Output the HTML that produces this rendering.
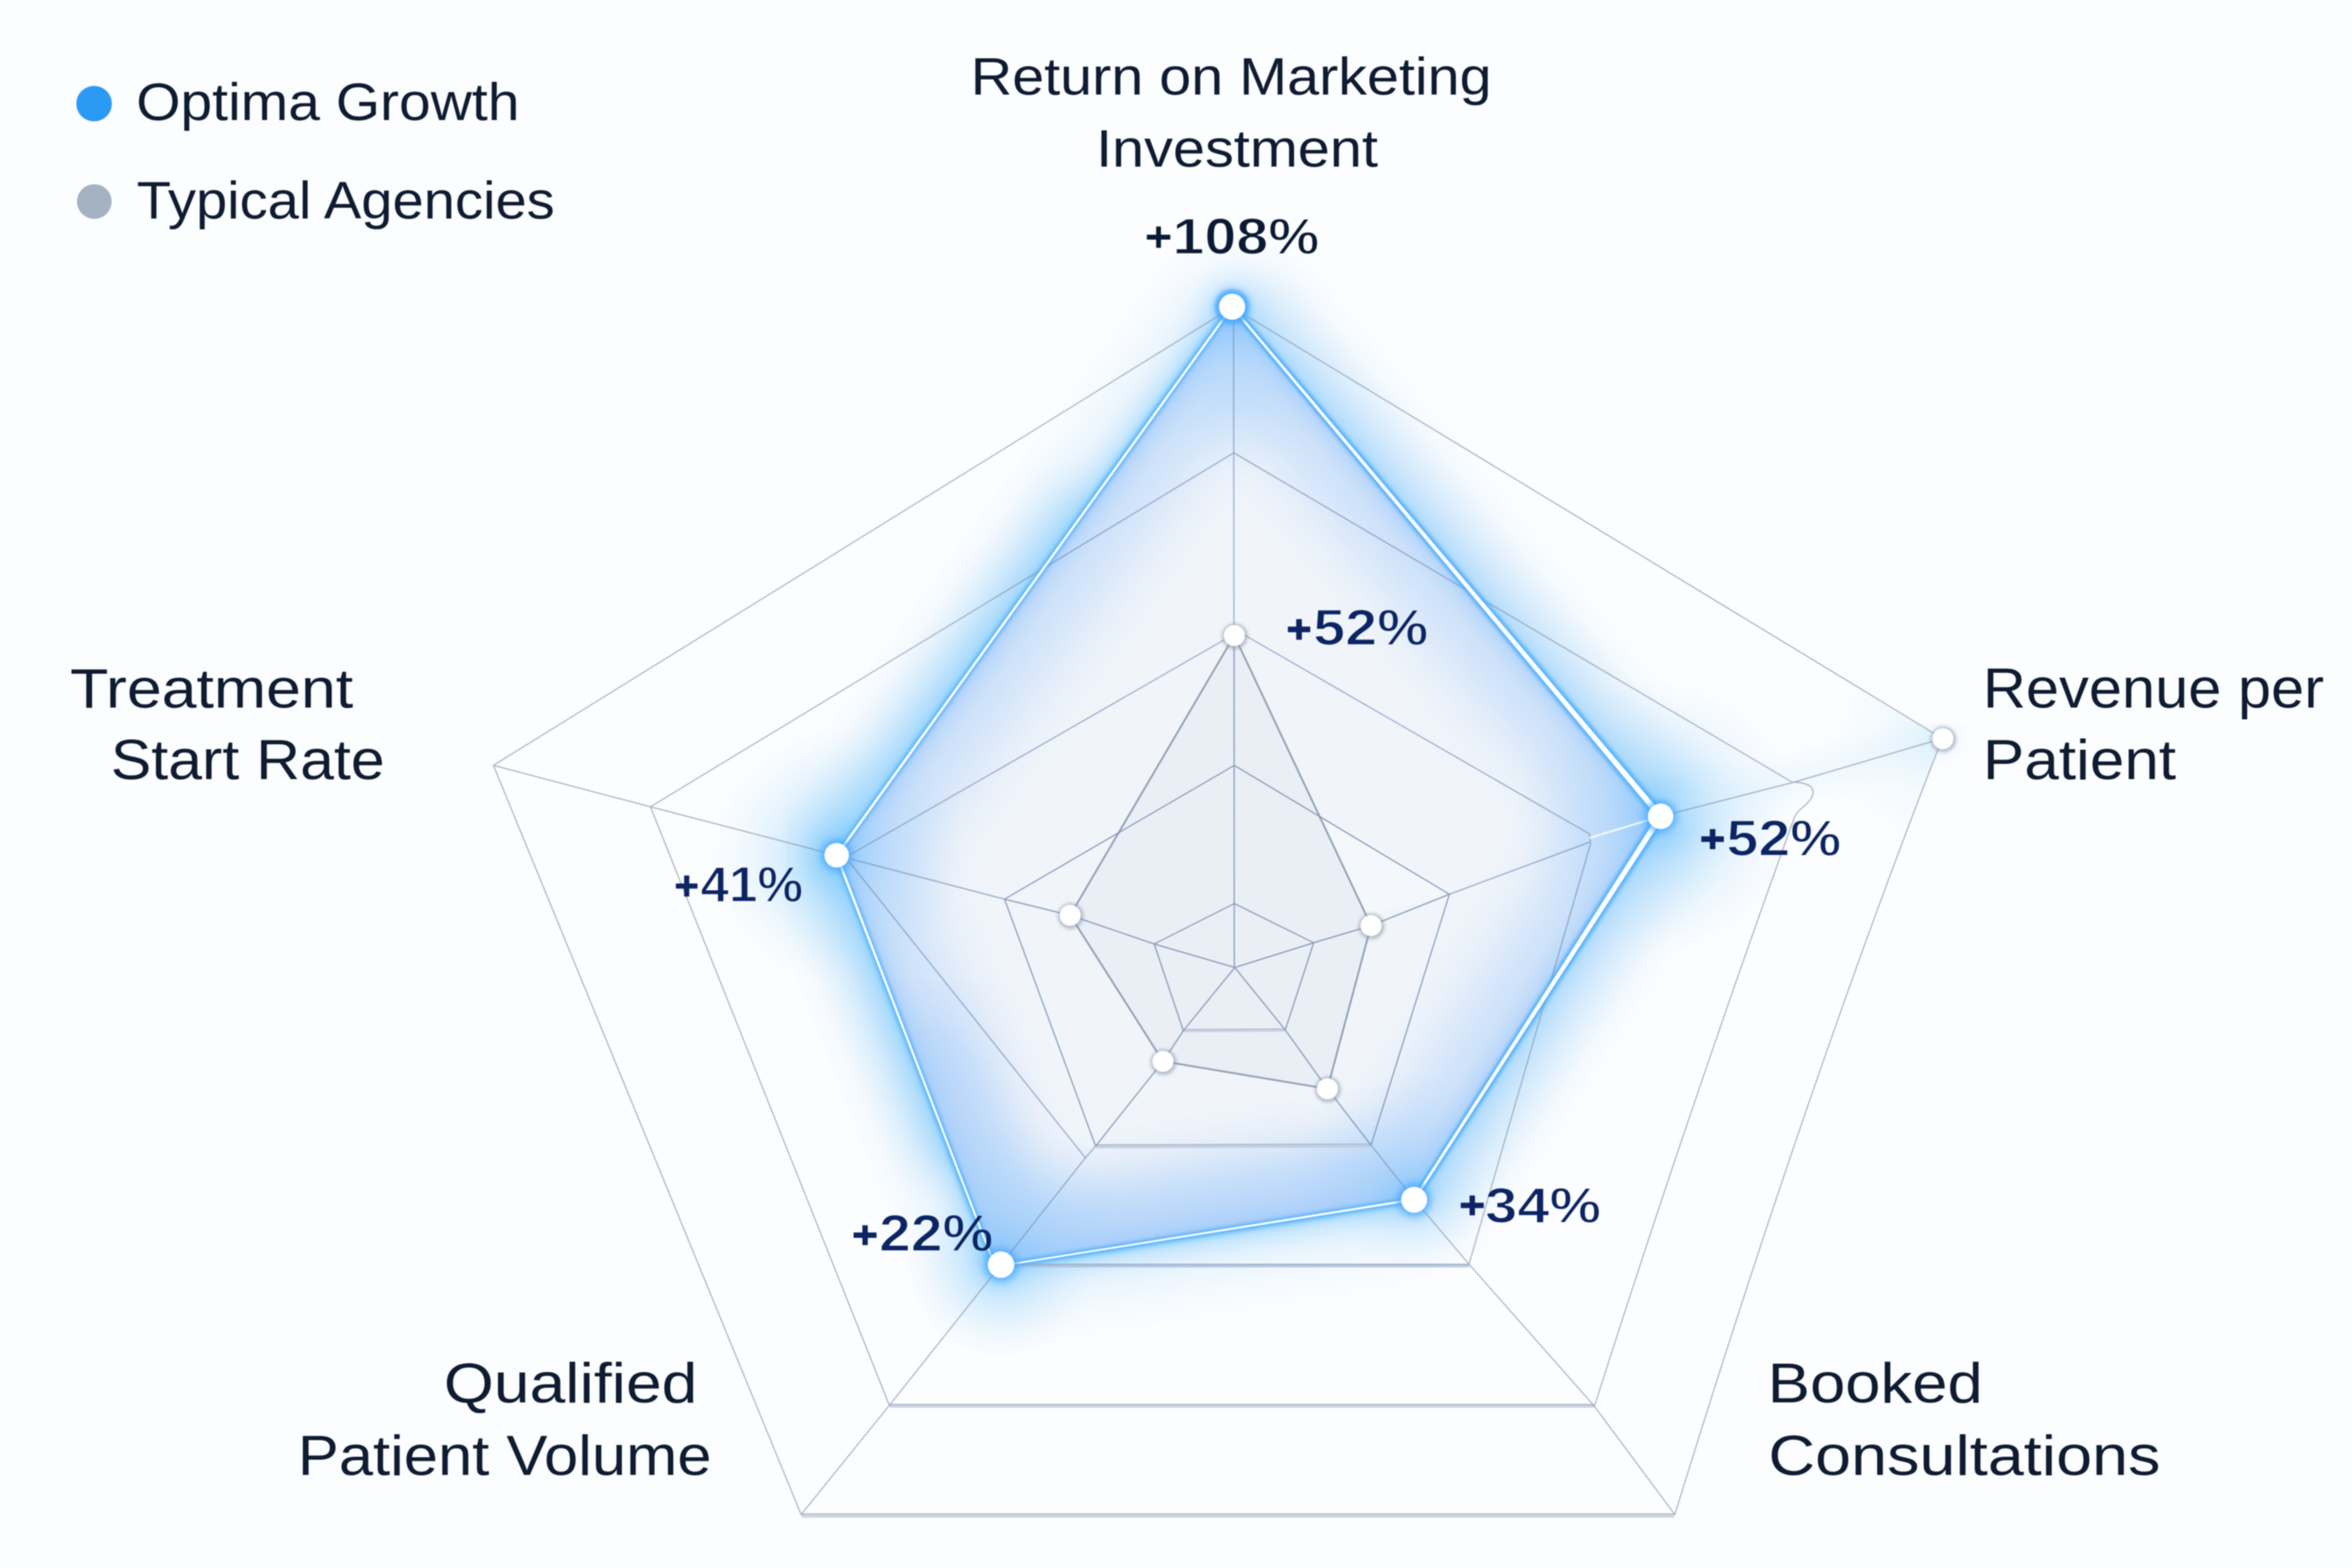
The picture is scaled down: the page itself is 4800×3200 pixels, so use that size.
<!DOCTYPE html>
<html>
<head>
<meta charset="utf-8">
<title>Radar</title>
<style>
html,body{margin:0;padding:0;background:#fcfdfe;}
body{width:4800px;height:3200px;overflow:hidden;font-family:"Liberation Sans",sans-serif;}
svg{display:block;position:absolute;left:0;top:0;filter:blur(0.9px);}
text{font-family:"Liberation Sans",sans-serif;}
.lab{fill:#0e1b30;font-weight:400;}
.val{fill:#0c2463;font-weight:700;}
.valk{fill:#0b1a33;font-weight:700;}
.mt{fill:#fff;stroke:#000;stroke-width:2.6px;font-weight:700;}
</style>
</head>
<body>
<svg width="4800" height="3200" viewBox="0 0 4800 3200">
<defs>
  <filter id="b8" x="-10%" y="-10%" width="120%" height="120%" filterUnits="objectBoundingBox"><feGaussianBlur stdDeviation="8"/></filter>
  <filter id="b3" x="-10%" y="-10%" width="120%" height="120%"><feGaussianBlur stdDeviation="3"/></filter>
  <filter id="b22" x="-20%" y="-20%" width="140%" height="140%"><feGaussianBlur stdDeviation="22"/></filter>
  <filter id="b45" x="-20%" y="-20%" width="140%" height="140%"><feGaussianBlur stdDeviation="45"/></filter>
  <filter id="b90" x="-20%" y="-20%" width="140%" height="140%"><feGaussianBlur stdDeviation="90"/></filter>
  <filter id="ds" x="-60%" y="-60%" width="220%" height="220%"><feGaussianBlur stdDeviation="5"/></filter>
  <filter id="b10" x="-20%" y="-20%" width="140%" height="140%"><feGaussianBlur stdDeviation="10"/></filter>
  <filter id="b60" x="-20%" y="-20%" width="140%" height="140%"><feGaussianBlur stdDeviation="60"/></filter>
  <polygon id="bp" points="2514.5,626 3389,1666 2886,2448 2043,2583 2029,2580 1707.5,1745.5" fill="none" stroke-linejoin="round"/>
  <radialGradient id="rgR"><stop offset="0" stop-color="#5fbdfd" stop-opacity="0.6"/><stop offset="0.35" stop-color="#86cdfc" stop-opacity="0.3"/><stop offset="1" stop-color="#b4defc" stop-opacity="0"/></radialGradient>
  <radialGradient id="rgL"><stop offset="0" stop-color="#5fbdfd" stop-opacity="0.6"/><stop offset="0.35" stop-color="#86cdfc" stop-opacity="0.3"/><stop offset="1" stop-color="#b4defc" stop-opacity="0"/></radialGradient>
  <radialGradient id="rgS"><stop offset="0" stop-color="#5fbdfd" stop-opacity="0.32"/><stop offset="0.4" stop-color="#86cdfc" stop-opacity="0.14"/><stop offset="1" stop-color="#b4defc" stop-opacity="0"/></radialGradient>
  <radialGradient id="rgI"><stop offset="0" stop-color="#6dbcfc" stop-opacity="0.6"/><stop offset="0.4" stop-color="#8cc8fb" stop-opacity="0.28"/><stop offset="1" stop-color="#a9d0fa" stop-opacity="0"/></radialGradient>
  <clipPath id="cpIn"><polygon points="2514.5,626 3389,1666 2886,2448 2043,2583 2029,2580 1707.5,1745.5"/></clipPath>
  <clipPath id="cpOut"><path clip-rule="evenodd" d="M0,0H4800V3200H0Z M2514.5,626 L3389,1666 L2886,2448 L2043,2583 L2029,2580 L1707.5,1745.5Z"/></clipPath>
</defs>

<rect width="4800" height="3200" fill="#fcfdfe"/>

<!-- GLOW LAYER -->
<g id="glow">
  <g clip-path="url(#cpOut)">
    <use href="#bp" stroke="#b4defc" stroke-width="150" filter="url(#b60)" opacity="0.45"/>
    <use href="#bp" stroke="#8ccffc" stroke-width="50" filter="url(#b22)" opacity="0.58"/>
    <use href="#bp" stroke="#5cbcfd" stroke-width="14" filter="url(#b8)" opacity="0.85"/>
    <path d="M2514.5,626 L3389,1666 L2886,2448" fill="none" stroke="#a6d3fb" stroke-width="170" stroke-linejoin="round" filter="url(#b45)" opacity="0.42"/>
    <path d="M2230,1020 L1707.5,1745.5 L1960,2375" fill="none" stroke="#90cffb" stroke-width="130" stroke-linejoin="round" filter="url(#b45)" opacity="0.5"/>
    <!-- vertex blobs outside -->
    <circle cx="3389" cy="1666" r="280" fill="url(#rgR)"/>
    <circle cx="1707.5" cy="1745.5" r="260" fill="url(#rgL)"/>
    <circle cx="2040" cy="2581" r="190" fill="url(#rgL)"/>
    <circle cx="2886" cy="2448" r="160" fill="url(#rgS)"/>
    <circle cx="2514.5" cy="626" r="95" fill="url(#rgS)"/>
    <path d="M3389,1666 L3966,1507" stroke="#d3ebfd" stroke-width="70" stroke-linecap="round" filter="url(#b22)" opacity="0.3" fill="none"/>
  </g>
  <g clip-path="url(#cpIn)">
    <rect x="1600" y="500" width="1900" height="2200" fill="#f1f5fa"/>
    <use href="#bp" stroke="#aacffa" stroke-width="260" filter="url(#b60)" opacity="0.52"/>
    <use href="#bp" stroke="#94c5fb" stroke-width="44" filter="url(#b22)" opacity="0.55"/>
    <use href="#bp" stroke="#8fc1fa" stroke-width="16" filter="url(#b8)" opacity="0.5"/>
    <path d="M2886,2448 L2043,2581 L1850,2100" fill="none" stroke="#a2cbfa" stroke-width="210" stroke-linejoin="round" filter="url(#b60)" opacity="0.5"/>
    <circle cx="3389" cy="1666" r="300" fill="url(#rgI)"/>
    <circle cx="1707.5" cy="1745.5" r="260" fill="url(#rgI)"/>
    <circle cx="2043" cy="2581" r="300" fill="url(#rgI)"/>
    <circle cx="2886" cy="2448" r="260" fill="url(#rgI)"/>
    <circle cx="2514.5" cy="626" r="330" fill="url(#rgI)"/>
  </g>
</g>

<clipPath id="cpOuter"><path d="M2515,627 L3964,1507 Q3693.5,2199.5 3418,3091 L1635,3091 L1007,1562Z"/></clipPath>
<radialGradient id="rgO" gradientUnits="userSpaceOnUse" cx="3964" cy="1507" r="240"><stop offset="0" stop-color="#d3effd" stop-opacity="0.7"/><stop offset="0.5" stop-color="#dff2fd" stop-opacity="0.28"/><stop offset="1" stop-color="#e8f5fe" stop-opacity="0"/></radialGradient>
<circle cx="3964" cy="1507" r="240" fill="url(#rgO)" clip-path="url(#cpOuter)"/>

<!-- TYPICAL FILL -->
<polygon points="2519,1297 2798,1889 2709,2222 2373.5,2166 2184,1868" fill="#c9d4e4" opacity="0.17"/>

<polygon points="2696,1668 2959,1824 2792,1866" fill="#ffffff" opacity="0.28" filter="url(#b8)"/>

<!-- GRID -->
<g id="gridh" fill="none" stroke-linecap="butt">
  <path d="M1636,3093 H3417" stroke="#cdd5df" stroke-width="8.5"/>
  <path d="M1636,3089.6 H3417" stroke="#a7b2c2" stroke-width="2" opacity="0.8"/>
  <path d="M1816,2869 H3253" stroke="#c9d2dd" stroke-width="7.5"/>
  <path d="M1816,2866 H3253" stroke="#a7b2c2" stroke-width="2" opacity="0.8"/>
  <path d="M2237,2339.5 L2797,2338" stroke="#bfcbdc" stroke-width="8" opacity="0.85"/>
  <path d="M2237,2336.3 L2797,2334.8" stroke="#9fadc2" stroke-width="2" opacity="0.8"/>
  <path d="M2416,2103.6 L2622,2102.2" stroke="#c3cddc" stroke-width="6.5" opacity="0.85"/>
  <path d="M2416,2101 L2622,2099.6" stroke="#a3afc2" stroke-width="1.8" opacity="0.8"/>
  <path d="M2060,2583 H2998" stroke="#a9bbd6" stroke-width="7" opacity="0.8"/>
  <path d="M2060,2580 H2998" stroke="#8ea3c4" stroke-width="2" opacity="0.8"/>
</g>
<g clip-path="url(#cpOut)"><g fill="none" stroke="#8290a6" stroke-width="2.4" stroke-linejoin="round" stroke-linecap="round" opacity="0.66">
  <!-- rings -->
  <path d="M1635,3091 L1007,1562 L2515,627 L3964,1507 M3955,1530 Q3693.5,2199.5 3418,3091"/>
  <path d="M3254,2870 Q3445,2269.5 3662,1668 C3670,1650 3688,1645 3697,1628 C3708,1606 3690,1597 3657,1596 L2518,924 L1327.5,1646.5 L1815,2868"/>
  <path d="M2519,1284 L3244,1702 L3246,1722 L2998,2580 M1727,1749 L2519,1294 M1727,1751 L2215,2363"/>
  <path d="M2236,2339 L2050,1835 L2519,1562 L2958,1825 L2798,2337"/>
  <path d="M2415,2103.5 L2355.5,1926.5 L2519,1844 L2681,1924 L2623,2102"/>
  <!-- axes -->
  <path d="M2517.5,640 L2519,1974.5"/>
  <path d="M3964,1507 L3662,1596 L3389,1666 M3243,1719 L2958,1825 L2798,1889 L2681,1924 L2520,1974.5"/>
  <path d="M3418,3091 L3254,2870 L2998,2580 L2886,2448 L2798,2337 L2709,2222 L2623,2102 L2520,1974.5"/>
  <path d="M1635,3091 L1815,2868 L2043,2581 L2215,2363 L2236,2339 L2373.5,2166 L2415,2103.5 L2520,1974.5"/>
  <path d="M1007,1562 L1327.5,1646.5 L1707.5,1745.5 L2050,1835 L2184,1868 L2355.5,1926.5 L2520,1974.5"/>
</g></g>
<g clip-path="url(#cpIn)"><g fill="none" stroke="#7790bb" stroke-width="2.5" stroke-linejoin="round" stroke-linecap="round" opacity="0.7">
  <!-- rings -->
  <path d="M1635,3091 L1007,1562 L2515,627 L3964,1507 M3955,1530 Q3693.5,2199.5 3418,3091"/>
  <path d="M3254,2870 Q3445,2269.5 3662,1668 C3670,1650 3688,1645 3697,1628 C3708,1606 3690,1597 3657,1596 L2518,924 L1327.5,1646.5 L1815,2868"/>
  <path d="M2519,1284 L3244,1702 L3246,1722 L2998,2580 M1727,1749 L2519,1294 M1727,1751 L2215,2363"/>
  <path d="M2236,2339 L2050,1835 L2519,1562 L2958,1825 L2798,2337"/>
  <path d="M2415,2103.5 L2355.5,1926.5 L2519,1844 L2681,1924 L2623,2102"/>
  <!-- axes -->
  <path d="M2517.5,640 L2519,1974.5"/>
  <path d="M3964,1507 L3662,1596 L3389,1666 M3243,1719 L2958,1825 L2798,1889 L2681,1924 L2520,1974.5"/>
  <path d="M3418,3091 L3254,2870 L2998,2580 L2886,2448 L2798,2337 L2709,2222 L2623,2102 L2520,1974.5"/>
  <path d="M1635,3091 L1815,2868 L2043,2581 L2215,2363 L2236,2339 L2373.5,2166 L2415,2103.5 L2520,1974.5"/>
  <path d="M1007,1562 L1327.5,1646.5 L1707.5,1745.5 L2050,1835 L2184,1868 L2355.5,1926.5 L2520,1974.5"/>
</g></g>
<g fill="none" stroke="#6f7f98" stroke-width="2.4" stroke-linejoin="round" stroke-linecap="round" opacity="0.3">
  <path d="M2236,2339 L2050,1835 L2519,1562 L2958,1825 L2798,2337"/>
  <path d="M2415,2103.5 L2355.5,1926.5 L2519,1844 L2681,1924 L2623,2102"/>
  <path d="M2519,1322 L2519,1974.5 M2958,1825 L2798,1889 L2681,1924 L2520,1974.5 M2798,2337 L2709,2222 L2623,2102 L2520,1974.5 M2236,2339 L2373.5,2166 L2415,2103.5 L2520,1974.5 M2050,1835 L2184,1868 L2355.5,1926.5 L2520,1974.5"/>
</g>
<path d="M3389,1666 L3244,1710" stroke="#ffffff" stroke-width="4" opacity="0.8" fill="none"/>

<!-- TYPICAL STROKE -->
<polygon points="2519,1297 2798,1889 2709,2222 2373.5,2166 2184,1868" fill="none" stroke="#7b8ba2" stroke-width="3.7" stroke-linejoin="round" opacity="0.8"/>

<!-- BLUE LINE -->
<g fill="#55b1fd" filter="url(#b3)" opacity="0.8">
  <polygon points="2509.9,629.9 3379.1,1674.4 3398.9,1657.6 2519.1,622.1"/>
  <polygon points="3378.1,1659.0 2881.0,2444.8 2891.0,2451.2 3399.9,1673.0"/>
</g>
<g fill="none" stroke-linejoin="round" stroke-linecap="round">
  <use href="#bp" stroke="#4eaefd" stroke-width="12" filter="url(#b3)" opacity="0.85"/>
</g>
<g fill="#ffffff">
  <polygon points="2512.7,627.5 3384.6,1669.7 3393.4,1662.3 2516.3,624.5"/>
  <polygon points="3384.2,1662.9 2883.9,2446.6 2888.1,2449.4 3393.8,1669.1"/>
  <polygon points="2885.6,2445.8 2042.7,2581.3 2043.3,2584.7 2886.4,2450.2"/>
  <polygon points="2030.8,2579.3 1709.9,1744.6 1705.1,1746.4 2027.2,2580.7"/>
  <polygon points="1709.6,1747.0 2516.4,627.3 2512.6,624.7 1705.4,1744.0"/>
</g>

<!-- DOTS -->
<g id="dots">
  <!-- typical -->
  <g fill="#8794a8" opacity="0.55" filter="url(#b3)">
    <circle cx="2520.0" cy="1298.5" r="26.5"/><circle cx="2799.0" cy="1890.5" r="26.5"/><circle cx="2710.0" cy="2223.5" r="26.5"/><circle cx="2374.5" cy="2167.5" r="26.5"/><circle cx="2185.0" cy="1869.5" r="26.5"/><circle cx="3966.0" cy="1509.0" r="26.5"/>
  </g>
  <g fill="#ffffff">
    <circle cx="2519.0" cy="1297.0" r="21.5"/><circle cx="2798.0" cy="1889.0" r="21.5"/><circle cx="2709.0" cy="2222.0" r="21.5"/><circle cx="2373.5" cy="2166.0" r="21.5"/><circle cx="2184.0" cy="1868.0" r="21.5"/><circle cx="3965.0" cy="1507.5" r="21.5"/>
  </g>
  <!-- blue -->
  <g fill="#46a8ff" filter="url(#b8)" opacity="0.9">
    <circle cx="2514.5" cy="626" r="34"/><circle cx="3389" cy="1666" r="32"/><circle cx="2886" cy="2448.5" r="33"/><circle cx="2043" cy="2581" r="33"/><circle cx="1707.5" cy="1745.5" r="31"/>
  </g>
  <circle cx="2514.5" cy="626" r="30.5" fill="none" stroke="#4baaff" stroke-width="6" filter="url(#b3)" opacity="0.9"/>
  <g fill="#ffffff">
    <circle cx="2514.5" cy="626" r="26.5"/><circle cx="3389" cy="1666" r="26"/><circle cx="2886" cy="2448.5" r="26.5"/><circle cx="2043" cy="2581" r="27"/><circle cx="1707.5" cy="1745.5" r="25"/>
  </g>
</g>

<!-- LEGEND -->
<circle cx="192" cy="211.5" r="36.3" fill="#2b9af5"/>
<circle cx="192.5" cy="411.3" r="35.4" fill="#a5b2c2"/>
<text class="lab" x="277.9" y="245.0" font-size="108.0" textLength="782.2" lengthAdjust="spacingAndGlyphs">Optima Growth</text>
<text class="lab" x="279.0" y="446.0" font-size="108.0" textLength="853.1" lengthAdjust="spacingAndGlyphs">Typical Agencies</text>

<!-- AXIS LABELS -->
<text class="lab" x="1981.0" y="193.0" font-size="108.0" textLength="1063.1" lengthAdjust="spacingAndGlyphs">Return on Marketing</text>
<text class="lab" x="2236.9" y="340.0" font-size="108.0" textLength="575.2" lengthAdjust="spacingAndGlyphs">Investment</text>
<text class="lab" x="143.0" y="1444.2" font-size="112.5" textLength="577.8" lengthAdjust="spacingAndGlyphs">Treatment</text>
<text class="lab" x="225.9" y="1590.0" font-size="115.0" textLength="559.2" lengthAdjust="spacingAndGlyphs">Start Rate</text>
<text class="lab" x="4046.8" y="1444.0" font-size="115.0" textLength="696.1" lengthAdjust="spacingAndGlyphs">Revenue per</text>
<text class="lab" x="4046.8" y="1589.5" font-size="115.0" textLength="394.2" lengthAdjust="spacingAndGlyphs">Patient</text>
<text class="lab" x="905.8" y="2862.0" font-size="115.0" textLength="517.5" lengthAdjust="spacingAndGlyphs">Qualified</text>
<text class="lab" x="607.8" y="3010.0" font-size="115.0" textLength="844.3" lengthAdjust="spacingAndGlyphs">Patient Volume</text>
<text class="lab" x="3607.6" y="2862.0" font-size="115.0" textLength="438.8" lengthAdjust="spacingAndGlyphs">Booked</text>
<text class="lab" x="3608.9" y="3010.0" font-size="115.0" textLength="800.2" lengthAdjust="spacingAndGlyphs">Consultations</text>

<!-- VALUES -->
<g class="valk"><rect x="2340.5" y="479.1" width="47.9" height="9.8" rx="1"/><rect x="2359.5" y="462.2" width="9.8" height="43.6" rx="1"/></g>
<g class="val"><rect x="2628.3" y="1278.7" width="45.7" height="11.6" rx="1"/><rect x="2645.3" y="1263.5" width="11.6" height="42.0" rx="1"/></g>
<g class="val"><rect x="3472.0" y="1706.8" width="46.1" height="11.4" rx="1"/><rect x="3489.4" y="1692.0" width="11.4" height="41.0" rx="1"/></g>
<g class="val"><rect x="1379.3" y="1803.0" width="44.2" height="10.6" rx="1"/><rect x="1396.1" y="1786.8" width="10.6" height="43.0" rx="1"/></g>
<g class="val"><rect x="1742.0" y="2515.2" width="46.9" height="11.0" rx="1"/><rect x="1760.0" y="2500.4" width="11.0" height="40.5" rx="1"/></g>
<g class="val"><rect x="2981.2" y="2454.5" width="46.9" height="11.0" rx="1"/><rect x="2999.1" y="2439.8" width="11.0" height="40.5" rx="1"/></g>
<mask id="mk" maskUnits="userSpaceOnUse" x="2300" y="400" width="500" height="160"><g fill="#fff" stroke="#000" stroke-width="2.6" font-weight="700">
<text class="mt" x="2392.8" y="518.0" font-size="104.7" textLength="299.6" lengthAdjust="spacingAndGlyphs">108%</text>
</g></mask>
<mask id="mv" maskUnits="userSpaceOnUse" x="1350" y="1200" width="2500" height="1420"><g fill="#fff" stroke="#000" stroke-width="2.6" font-weight="700">
<text class="mt" x="2680.1" y="1316.4" font-size="103.9" textLength="234.8" lengthAdjust="spacingAndGlyphs">52%</text>
<text class="mt" x="3523.3" y="1746.2" font-size="103.9" textLength="234.3" lengthAdjust="spacingAndGlyphs">52%</text>
<text class="mt" x="1429.4" y="1840.0" font-size="101.7" textLength="209.6" lengthAdjust="spacingAndGlyphs">41%</text>
<text class="mt" x="1793.9" y="2553.2" font-size="104.9" textLength="233.2" lengthAdjust="spacingAndGlyphs">22%</text>
<text class="mt" x="3030.7" y="2494.6" font-size="101.5" textLength="236.8" lengthAdjust="spacingAndGlyphs">34%</text>
</g></mask>
<rect x="2300" y="400" width="500" height="160" fill="#0b1a33" mask="url(#mk)"/>
<rect x="1350" y="1200" width="2500" height="1420" fill="#0c2463" mask="url(#mv)"/>
</svg>
</body>
</html>
